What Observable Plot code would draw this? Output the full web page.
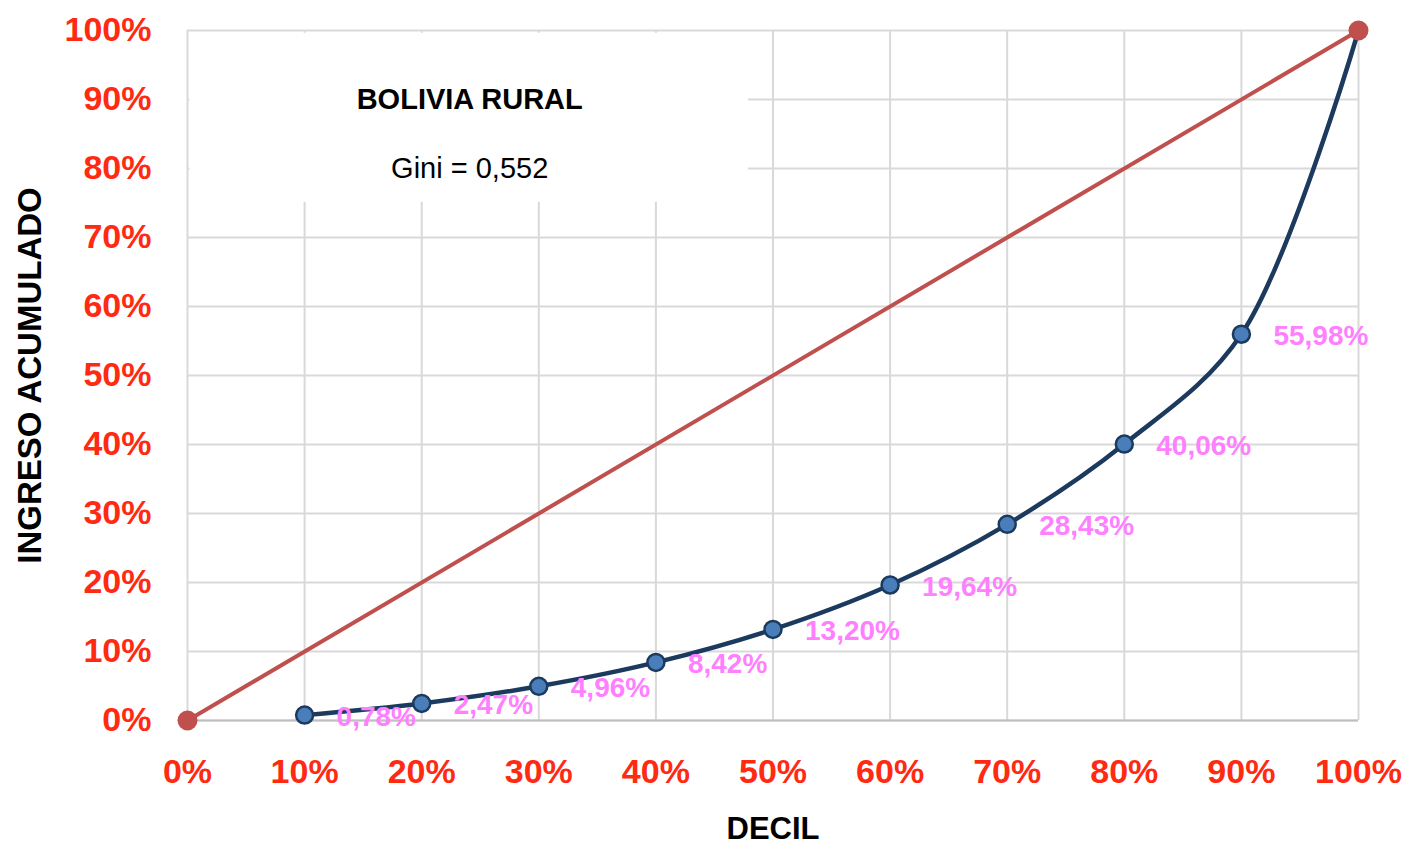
<!DOCTYPE html>
<html>
<head>
<meta charset="utf-8">
<script src="https://cdn.jsdelivr.net/npm/d3@7"></script>
<script src="https://cdn.jsdelivr.net/npm/@observablehq/plot@0.6"></script>
<style>
  html, body { margin: 0; padding: 0; background: #fff; }
  #chart { width: 1408px; height: 845px; }
</style>
</head>
<body>
<div id="chart"></div>
<script>
// ---- data ----
const deciles = [10, 20, 30, 40, 50, 60, 70, 80, 90, 100];
const cumIncome = [0.78, 2.47, 4.96, 8.42, 13.20, 19.64, 28.43, 40.06, 55.98, 100];
const equalityX = [0, 100];
const equalityY = [0, 100];
const xTicks = [0, 10, 20, 30, 40, 50, 60, 70, 80, 90, 100];
const yTicks = [0, 10, 20, 30, 40, 50, 60, 70, 80, 90, 100];
const chartTitle = "BOLIVIA RURAL";
const giniText = "Gini = 0,552";
const xLabel = "DECIL";
const yLabel = "INGRESO ACUMULADO";

const lorenz = deciles.map((d, i) => ({x: d, y: cumIncome[i]}));
const equality = equalityX.map((d, i) => ({x: d, y: equalityY[i]}));
const labeled = lorenz.slice(0, 9);
const fmtPct = v => d3.format(".2f")(v).replace(".", ",") + "%";

const FONT = "'Liberation Sans', Arial, sans-serif";
const RED = "#ff2a12";

const chart = Plot.plot({
  width: 1408,
  height: 845,
  marginLeft: 187,
  marginRight: 50,
  marginTop: 30,
  marginBottom: 125,
  style: {fontFamily: FONT, background: "#fff"},
  x: {domain: [0, 100]},
  y: {domain: [0, 100]},
  marks: [
    Plot.gridX(xTicks, {stroke: "#d9d9d9", strokeOpacity: 1, strokeWidth: 2}),
    Plot.gridY(yTicks, {stroke: "#d9d9d9", strokeOpacity: 1, strokeWidth: 2}),
    // title box (white) covering the grid
    Plot.rect([0], {x1: 0.2, x2: 47.9, y1: 75.1, y2: 99.6, fill: "white"}),
    Plot.text([chartTitle], {x: 24.1, y: 90, text: d => d, fontSize: 29, fontWeight: "bold", fill: "#000"}),
    Plot.text([giniText], {x: 24.1, y: 80, text: d => d, fontSize: 29, fill: "#000"}),
    Plot.ruleY([0], {stroke: "#bfbfbf", strokeWidth: 2}),
    Plot.axisX(xTicks, {tickFormat: d => d + "%", tickSize: 0, tickPadding: 38, fontSize: 34, fontWeight: "bold", fill: RED, label: null}),
    Plot.axisY(yTicks, {tickFormat: d => d + "%", tickSize: 0, tickPadding: 36, fontSize: 34, fontWeight: "bold", fill: RED, label: null}),
    Plot.text([xLabel], {frameAnchor: "bottom", dy: 118, text: d => d, fontSize: 31, fontWeight: "bold", fill: "#000"}),
    Plot.text([yLabel], {frameAnchor: "left", textAnchor: "middle", dx: -157, rotate: -90, text: d => d, fontSize: 33, fontWeight: "bold", fill: "#000"}),
    // equality line
    Plot.line(equality, {x: "x", y: "y", stroke: "#c0504d", strokeWidth: 4}),
    // Lorenz curve
    Plot.line(lorenz, {x: "x", y: "y", curve: "catmull-rom", stroke: "#1b3a5e", strokeWidth: 4.5}),
    Plot.dot(labeled, {x: "x", y: "y", r: 8.5, fill: "#4a7ebb", stroke: "#1b3a5e", strokeWidth: 2.5}),
    Plot.dot(equality, {x: "x", y: "y", r: 10, fill: "#c0504d"}),
    Plot.text(labeled, {x: "x", y: "y", text: d => fmtPct(d.y), dx: 32, dy: 2, textAnchor: "start", fontSize: 28, fontWeight: "bold", fill: "#ff80ff"})
  ]
});
document.getElementById("chart").appendChild(chart);
</script>
</body>
</html>
